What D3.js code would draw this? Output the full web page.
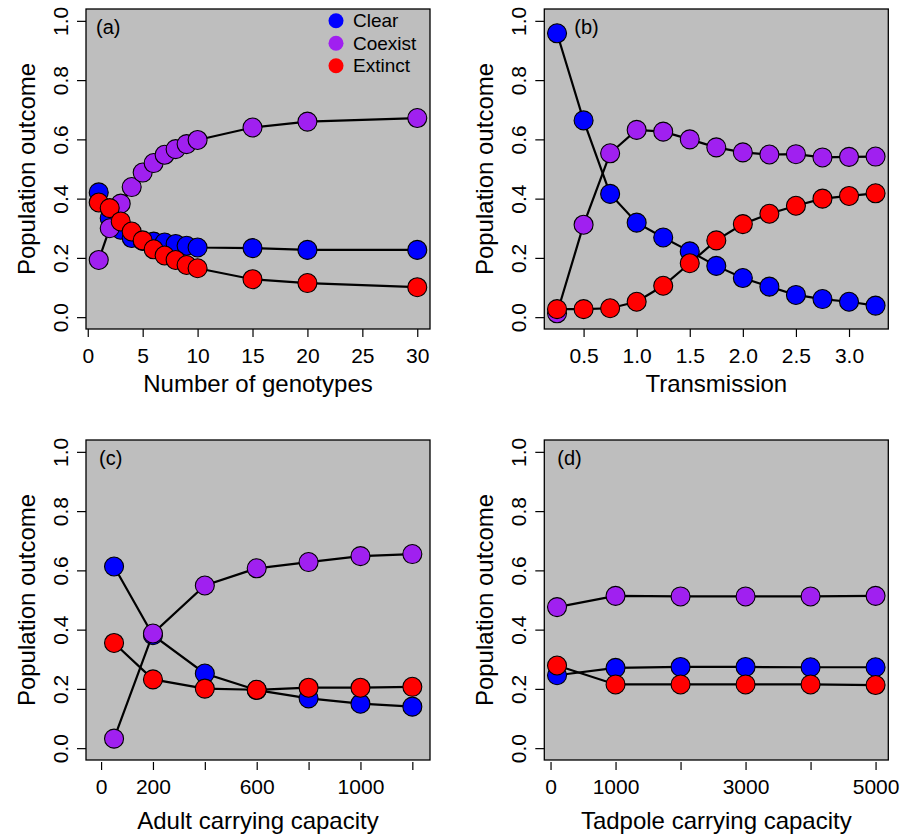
<!DOCTYPE html>
<html>
<head>
<meta charset="utf-8">
<script src="https://cdn.jsdelivr.net/npm/d3@7"></script>
<style>
	body { margin: 0; background: #ffffff; }
	svg { display: block; font-family: "Liberation Sans", Arial, Helvetica, sans-serif; }
</style>
</head>
<body>
<div id="chartDiv"></div>
<script>
; (function () {

	// (a) number of genotypes
	var genotypes = [1, 2, 3, 4, 5, 6, 7, 8, 9, 10, 15, 20, 30];
	var genoClear = [0.421, 0.334, 0.295, 0.267, 0.257, 0.255, 0.252, 0.247, 0.241, 0.235, 0.233, 0.227, 0.227];
	var genoCoexist = [0.193, 0.300, 0.383, 0.439, 0.488, 0.520, 0.548, 0.567, 0.584, 0.598, 0.640, 0.660, 0.672];
	var genoExtinct = [0.387, 0.368, 0.323, 0.289, 0.259, 0.229, 0.208, 0.193, 0.176, 0.165, 0.128, 0.115, 0.101];

	// (b) transmission
	var transmission = [0.25, 0.5, 0.75, 1.0, 1.25, 1.5, 1.75, 2.0, 2.25, 2.5, 2.75, 3.0, 3.25];
	var transClear = [0.958, 0.664, 0.416, 0.319, 0.269, 0.222, 0.173, 0.132, 0.103, 0.075, 0.061, 0.052, 0.039];
	var transCoexist = [0.013, 0.312, 0.553, 0.632, 0.626, 0.600, 0.573, 0.556, 0.549, 0.550, 0.539, 0.541, 0.542];
	var transExtinct = [0.027, 0.027, 0.030, 0.052, 0.106, 0.182, 0.259, 0.314, 0.349, 0.376, 0.400, 0.409, 0.418];

	// (c) adult carrying capacity
	var adultK = [50, 200, 400, 600, 800, 1000, 1200];
	var adultClear = [0.613, 0.381, 0.252, 0.196, 0.168, 0.150, 0.140];
	var adultCoexist = [0.032, 0.387, 0.549, 0.607, 0.628, 0.648, 0.655];
	var adultExtinct = [0.355, 0.232, 0.201, 0.197, 0.204, 0.204, 0.207];

	// (d) tadpole carrying capacity
	var tadpoleK = [100, 1000, 2000, 3000, 4000, 5000];
	var tadClear = [0.246, 0.271, 0.274, 0.274, 0.273, 0.273];
	var tadCoexist = [0.476, 0.514, 0.512, 0.512, 0.512, 0.514];
	var tadExtinct = [0.279, 0.215, 0.215, 0.215, 0.215, 0.213];

	// axis ticks / labels
	var yTicks = [0, 0.2, 0.4, 0.6, 0.8, 1.0];
	var genoTicks = [0, 5, 10, 15, 20, 25, 30];
	var transTicks = [0.5, 1.0, 1.5, 2.0, 2.5, 3.0];
	var adultTicks = [0, 200, 400, 600, 800, 1000, 1200];
	var adultTickLabels = ["0", "200", "", "600", "", "1000", ""];
	var tadTicks = [0, 1000, 2000, 3000, 4000, 5000];
	var tadTickLabels = ["0", "1000", "", "3000", "", "5000"];

	var outcomes = ["Clear", "Coexist", "Extinct"];
	var colors = { Clear: "#0000ff", Coexist: "#a020f0", Extinct: "#ff0000" };

	var width = 909;
	var height = 836;
	var boxW = 344;
	var boxH = 320;
	var circleRadius = 9.5;

	var panels = [
		{ tag: "(a)", left: 86, top: 9, x: genotypes, series: [genoClear, genoCoexist, genoExtinct],
			xlim: [1, 30], ticks: genoTicks, tickLabels: null, fmt: d3.format("d"),
			xTitle: "Number of genotypes", tagX: 10, axisGap: 0, titleY: 63, legend: true },
		{ tag: "(b)", left: 544.3, top: 9, x: transmission, series: [transClear, transCoexist, transExtinct],
			xlim: [0.25, 3.25], ticks: transTicks, tickLabels: null, fmt: d3.format(".1f"),
			xTitle: "Transmission", tagX: 30, axisGap: 0, titleY: 63, legend: false },
		{ tag: "(c)", left: 86, top: 440, x: adultK, series: [adultClear, adultCoexist, adultExtinct],
			xlim: [-9, 1219], ticks: adultTicks, tickLabels: adultTickLabels, fmt: null,
			xTitle: "Adult carrying capacity", tagX: 13, axisGap: 2, titleY: 69, legend: false },
		{ tag: "(d)", left: 544.3, top: 440, x: tadpoleK, series: [tadClear, tadCoexist, tadExtinct],
			xlim: [100, 5000], ticks: tadTicks, tickLabels: tadTickLabels, fmt: null,
			xTitle: "Tadpole carrying capacity", tagX: 13, axisGap: 2, titleY: 69, legend: false }
	];

	var svg = d3.select("#chartDiv").append("svg")
		.attr("width", width)
		.attr("height", height);

	panels.forEach(drawPanel);

	// R style range: data limits widened by 4% on each side
	function pad(lim) {
		var d = (lim[1] - lim[0]) * 0.04;
		return [lim[0] - d, lim[1] + d];
	}

	function drawPanel(p) {
		var g = svg.append("g")
			.attr("transform", "translate(" + p.left + "," + p.top + ")");

		var xScale = d3.scaleLinear().domain(pad(p.xlim)).range([0, boxW]);
		var yScale = d3.scaleLinear().domain(pad([0, 1])).range([boxH, 0]);

		g.append("rect")
			.attr("width", boxW)
			.attr("height", boxH)
			.attr("fill", "#bebebe");

		// series: line then points, clear -> coexist -> extinct
		p.series.forEach(function (vals, i) {
			var pts = vals.map(function (v, j) { return [p.x[j], v]; });
			var line = d3.line()
				.x(function (d) { return xScale(d[0]); })
				.y(function (d) { return yScale(d[1]); });

			g.append("path")
				.datum(pts)
				.attr("d", line)
				.attr("fill", "none")
				.attr("stroke", "#000")
				.attr("stroke-width", 2.2);

			g.selectAll(".pt" + i)
				.data(pts)
				.enter().append("circle")
				.attr("class", "pt" + i)
				.attr("cx", function (d) { return xScale(d[0]); })
				.attr("cy", function (d) { return yScale(d[1]); })
				.attr("r", circleRadius)
				.attr("fill", colors[outcomes[i]])
				.attr("stroke", "#000")
				.attr("stroke-width", 1.1);
		});

		g.append("rect")
			.attr("width", boxW)
			.attr("height", boxH)
			.attr("fill", "none")
			.attr("stroke", "#000")
			.attr("stroke-width", 1.3);

		// y axis, labels rotated like R
		var yAxis = d3.axisLeft(yScale)
			.tickValues(yTicks)
			.tickSize(9)
			.tickFormat(d3.format(".1f"));

		var yG = g.append("g").call(yAxis);
		yG.select(".domain").remove();
		yG.selectAll("line").attr("stroke", "#000").attr("stroke-width", 1.2);
		yG.selectAll("text")
			.attr("transform", "rotate(-90)")
			.attr("x", 0)
			.attr("y", -18)
			.attr("dy", 0)
			.attr("text-anchor", "middle")
			.attr("fill", "#000")
			.style("font-size", "21px")
			.style("font-family", "Liberation Sans, Arial, sans-serif");

		// x axis
		var xAxis = d3.axisBottom(xScale)
			.tickValues(p.ticks)
			.tickSize(8)
			.tickFormat(function (d, i) { return p.tickLabels ? p.tickLabels[i] : p.fmt(d); });

		var xG = g.append("g")
			.attr("transform", "translate(0," + (boxH + p.axisGap) + ")")
			.call(xAxis);
		xG.select(".domain").remove();
		xG.selectAll("line").attr("stroke", "#000").attr("stroke-width", 1.2);
		xG.selectAll("text")
			.attr("y", 34 - p.axisGap)
			.attr("dy", 0)
			.attr("fill", "#000")
			.style("font-size", "21px")
			.style("font-family", "Liberation Sans, Arial, sans-serif");

		g.append("text")
			.attr("text-anchor", "middle")
			.attr("x", boxW / 2)
			.attr("y", boxH + p.titleY)
			.style("font-size", "24px")
			.text(p.xTitle);

		g.append("text")
			.attr("text-anchor", "middle")
			.attr("transform", "translate(-51," + (boxH / 2) + ") rotate(-90)")
			.style("font-size", "24px")
			.text("Population outcome");

		g.append("text")
			.attr("x", p.tagX)
			.attr("y", 25)
			.style("font-size", "20px")
			.text(p.tag);

		if (p.legend) {
			var leg = g.append("g")
				.attr("transform", "translate(" + (336 - p.left) + ",0)");
			outcomes.forEach(function (name, i) {
				var ly = 11.7 + i * 22.5;
				leg.append("circle")
					.attr("cx", 0)
					.attr("cy", ly)
					.attr("r", 7.5)
					.attr("fill", colors[name]);
				leg.append("text")
					.attr("x", 17)
					.attr("y", ly)
					.attr("dy", "0.35em")
					.style("font-size", "19px")
					.text(name);
			});
		}
	}

})();
</script>
</body>
</html>
